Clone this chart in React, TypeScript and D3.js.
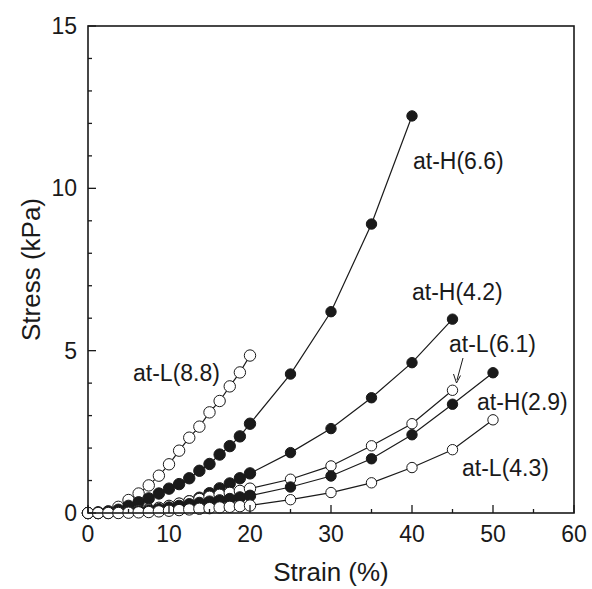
import React from "react";
import * as d3 from "d3";

const strainDense = [0, 1.25, 2.5, 3.75, 5, 6.25, 7.5, 8.75, 10, 11.25, 12.5, 13.75, 15, 16.25, 17.5, 18.75, 20];
const strainTail40 = [25, 30, 35, 40];
const strainTail45 = [25, 30, 35, 40, 45];
const strainTail50 = [25, 30, 35, 40, 45, 50];

const stressL88 = [0, 0.02, 0.05, 0.19, 0.4, 0.6, 0.85, 1.15, 1.5, 1.92, 2.32, 2.66, 3.1, 3.45, 3.9, 4.33, 4.85];
const stressH66 = [0, 0.01, 0.04, 0.1, 0.22, 0.33, 0.45, 0.6, 0.75, 0.89, 1.07, 1.3, 1.51, 1.8, 2.06, 2.36, 2.75, 4.28, 6.2, 8.9, 12.23];
const stressH42 = [0, 0, 0.01, 0.02, 0.04, 0.07, 0.1, 0.15, 0.2, 0.28, 0.36, 0.47, 0.61, 0.76, 0.91, 1.07, 1.22, 1.86, 2.6, 3.55, 4.63, 5.97];
const stressL61 = [0, 0, 0.01, 0.02, 0.04, 0.07, 0.11, 0.16, 0.22, 0.29, 0.36, 0.43, 0.5, 0.56, 0.62, 0.68, 0.75, 1.04, 1.45, 2.07, 2.75, 3.78];
const stressH29 = [0, 0, 0, 0.01, 0.03, 0.05, 0.08, 0.12, 0.17, 0.22, 0.27, 0.31, 0.35, 0.39, 0.43, 0.48, 0.53, 0.8, 1.14, 1.67, 2.41, 3.35, 4.32];
const stressL43 = [0, 0, 0, 0, 0.01, 0.02, 0.03, 0.05, 0.07, 0.09, 0.11, 0.13, 0.15, 0.17, 0.19, 0.21, 0.23, 0.41, 0.63, 0.93, 1.4, 1.95, 2.87];

const xMajor = [0, 10, 20, 30, 40, 50, 60];
const xMinor = [5, 15, 25, 35, 45, 55];
const yMajor = [0, 5, 10, 15];
const yMinor = [1, 2, 3, 4, 6, 7, 8, 9, 11, 12, 13, 14];

type Series = { name: string; xs: number[]; ys: number[]; filled: boolean };

const series: Series[] = [
  { name: "at-L(8.8)", xs: strainDense, ys: stressL88, filled: false },
  { name: "at-H(6.6)", xs: [...strainDense, ...strainTail40], ys: stressH66, filled: true },
  { name: "at-H(4.2)", xs: [...strainDense, ...strainTail45], ys: stressH42, filled: true },
  { name: "at-L(6.1)", xs: [...strainDense, ...strainTail45], ys: stressL61, filled: false },
  { name: "at-H(2.9)", xs: [...strainDense, ...strainTail50], ys: stressH29, filled: true },
  { name: "at-L(4.3)", xs: [...strainDense, ...strainTail50], ys: stressL43, filled: false },
];

const labels = [
  { text: "at-L(8.8)", x: 133, y: 381 },
  { text: "at-H(6.6)", x: 413, y: 169 },
  { text: "at-H(4.2)", x: 412, y: 300 },
  { text: "at-L(6.1)", x: 449, y: 352 },
  { text: "at-H(2.9)", x: 477, y: 410 },
  { text: "at-L(4.3)", x: 462, y: 476 },
];

export default function App() {
  const W = 592, H = 589;
  const left = 88, right = 574, top = 26, bottom = 513;
  const x = d3.scaleLinear().domain([0, 60]).range([left, right]);
  const y = d3.scaleLinear().domain([0, 15]).range([bottom, top]);
  const line = d3.line<[number, number]>().x((d) => x(d[0])).y((d) => y(d[1]));
  const font = "'Liberation Sans', Arial, sans-serif";

  return (
    <svg width={W} height={H} style={{ position: "absolute", left: 0, top: 0, background: "#fff" }}>
      <rect x={0} y={0} width={W} height={H} fill="#fff" />
      {series.map((s) => {
        const pts = s.xs.map((v, i) => [v, s.ys[i]] as [number, number]);
        return <path key={s.name + "l"} d={line(pts) || ""} fill="none" stroke="#1a1a1a" strokeWidth={1.2} />;
      })}
      {series.map((s) =>
        s.xs.map((v, i) => (
          <circle
            key={s.name + i}
            cx={x(v)}
            cy={y(s.ys[i])}
            r={v <= 20 ? 5.7 : 5.2}
            fill={s.filled ? "#1a1a1a" : "#fff"}
            stroke="#1a1a1a"
            strokeWidth={1}
          />
        ))
      )}
      <rect x={left} y={top} width={right - left} height={bottom - top} fill="none" stroke="#1a1a1a" strokeWidth={1.6} />
      {xMajor.map((v) => (
        <line key={"xM" + v} x1={x(v)} x2={x(v)} y1={bottom} y2={bottom - 8} stroke="#1a1a1a" strokeWidth={1.3} />
      ))}
      {xMinor.map((v) => (
        <line key={"xm" + v} x1={x(v)} x2={x(v)} y1={bottom} y2={bottom - 4} stroke="#1a1a1a" strokeWidth={1.3} />
      ))}
      {yMajor.map((v) => (
        <line key={"yM" + v} x1={left} x2={left + 8} y1={y(v)} y2={y(v)} stroke="#1a1a1a" strokeWidth={1.3} />
      ))}
      {yMinor.map((v) => (
        <line key={"ym" + v} x1={left} x2={left + 4} y1={y(v)} y2={y(v)} stroke="#1a1a1a" strokeWidth={1.3} />
      ))}
      {xMajor.map((v) => (
        <text key={"xt" + v} x={x(v)} y={542} textAnchor="middle" fontFamily={font} fontSize={23} fill="#1a1a1a">
          {v}
        </text>
      ))}
      {yMajor.map((v) => (
        <text key={"yt" + v} x={77} y={y(v) + 8} textAnchor="end" fontFamily={font} fontSize={23} fill="#1a1a1a">
          {v}
        </text>
      ))}
      <text x={(left + right) / 2} y={581} textAnchor="middle" fontFamily={font} fontSize={26} fill="#1a1a1a">
        Strain (%)
      </text>
      <text
        transform={`translate(40, ${(top + bottom) / 2}) rotate(-90)`}
        textAnchor="middle"
        fontFamily={font}
        fontSize={26}
        fill="#1a1a1a"
      >
        Stress (kPa)
      </text>
      {labels.map((l) => (
        <text key={l.text} x={l.x} y={l.y} fontFamily={font} fontSize={23} fill="#1a1a1a">
          {l.text}
        </text>
      ))}
      <line x1={463} y1={358} x2={457} y2={380} stroke="#1a1a1a" strokeWidth={1} />
      <path d="M 453.5 374 L 456.5 383 L 460.5 375.5" fill="none" stroke="#1a1a1a" strokeWidth={1} />
    </svg>
  );
}
